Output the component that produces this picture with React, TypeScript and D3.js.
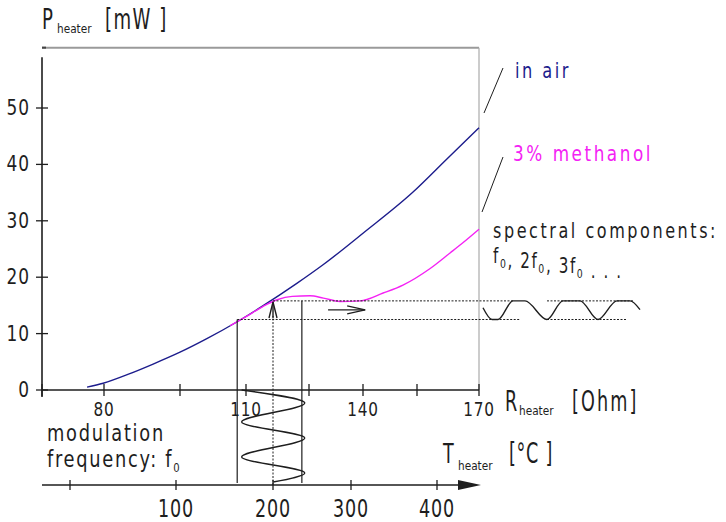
import React from "react";
import * as d3 from "d3";

// heater power vs. heater resistance
const pTicks = [0, 10, 20, 30, 40, 50];
const rTicks = [65, 80, 95, 110, 125, 140, 155, 170];
const rLabels = [80, 110, 140, 170];
const tTicks = [0, 100, 200, 300, 400];
const tLabels = [100, 200, 300, 400];

const rAir = [75.9, 79.8, 85.1, 89.7, 95, 101.1, 108.0, 114.0, 122.1, 128.9, 140, 153.9, 162.3, 170];
const pAir = [0.5, 1.2, 2.9, 4.6, 6.7, 9.1, 12.1, 14.9, 18.9, 22.2, 27.8, 35.1, 41.0, 46.5];

const rMeth = [106.4, 110, 114.0, 117.4, 121.0, 125.3, 129, 133.6, 139.2, 145.6, 151.1, 158.1, 163.0, 166.1, 170];
const pMeth = [11.4, 13.0, 14.8, 16.0, 16.6, 16.7, 16.3, 15.7, 15.8, 17.2, 18.6, 21.5, 24.3, 26.1, 28.5];

// operating point / modulation
const pHigh = 15.8;
const pLow = 12.5;
const rLow = 108;
const rHigh = 123.3;
const tMod = 200;
const arrowP = 14.2;
const arrowR = [130.3, 140.6];

// schematic waves
const modDy = [0, 13, 32, 48, 67, 83, 92];
const modSide = [0, 1, 0, 1, 0, 1, 0.5];
const specDx = [0, 9, 15, 30, 42, 64, 80, 97, 115, 134, 147, 157];
const specLvl = [0.63, 0, 0, 1, 1, 0, 1, 1, 0, 1, 1, 0.53];

const FONT = "'Liberation Sans Narrow', 'DejaVu Sans Condensed', 'Roboto Condensed', sans-serif";
const INK = "#1e1e1e";
const BLUE = "#1c1c8c";
const MAGENTA = "#f422f4";

const yScale = d3.scaleLinear().domain([0, 50]).range([390, 108]);
const xR = d3.scaleLinear().domain(rTicks).range([42, 104, 180, 246, 309, 363, 417, 479]);
const xT = d3.scaleLinear().domain(tTicks).range([70, 176, 273, 351, 437]);
const tAxisY = 485;
const specX0 = 483;

const Txt = ({ x, y, size, sx = 1, anchor = "start", fill = INK, ls = 0, children }: any) => (
  <text
    transform={`translate(${x},${y}) scale(${sx},1)`}
    fontSize={size}
    textAnchor={anchor}
    fill={fill}
    letterSpacing={ls}
    fontFamily={FONT}
  >
    {children}
  </text>
);

const Sub = ({ children }: any) => (
  <>
    <tspan fontSize={13} dy={5}>{children}</tspan>
    <tspan dy={-5}></tspan>
  </>
);

export default function App() {
  const line = d3
    .line<[number, number]>()
    .x((d) => xR(d[0]))
    .y((d) => yScale(d[1]))
    .curve(d3.curveMonotoneX);

  const airPath = line(rAir.map((r, i) => [r, pAir[i]]));
  const methPath = line(rMeth.map((r, i) => [r, pMeth[i]]));

  const x0 = xR(rTicks[0]);
  const y0 = yScale(0);
  const yTop = yScale(59);
  const yBorder = yScale(60.7);
  const xRight = xR(170);

  const modL = xR(109);
  const modR = xR(124);
  const modPath = d3
    .line<number>()
    .x((_, i) => modL + modSide[i] * (modR - modL))
    .y((d) => y0 + d)
    .curve(d3.curveMonotoneY)(modDy);

  const yHi = yScale(pHigh);
  const yLo = yScale(pLow);
  const specPath = d3
    .line<number>()
    .x((d) => specX0 + d)
    .y((_, i) => yLo + specLvl[i] * (yHi - yLo))
    .curve(d3.curveMonotoneX)(specDx);

  const xMod = xT(tMod);
  const yArrowTip = yScale(15.6);
  const yArrow = yScale(arrowP);
  const ax1 = xR(arrowR[0]);
  const ax2 = xR(arrowR[1]);

  return (
    <svg width={726} height={522} style={{ position: "absolute", left: 0, top: 0, background: "#fff" }}>
      {/* frame */}
      <line x1={x0} x2={xRight} y1={yBorder} y2={yBorder} stroke="#9a9a9a" strokeWidth={2} />
      <line x1={x0} x2={x0 + 4} y1={yBorder} y2={yBorder} stroke="#444" strokeWidth={2} />
      <line x1={xRight} x2={xRight} y1={yBorder} y2={y0} stroke="#aaa" strokeWidth={1.2} />

      {/* P axis */}
      <line x1={x0} x2={x0} y1={yTop} y2={y0 + 7} stroke={INK} strokeWidth={1.6} />
      {pTicks.map((p) => (
        <g key={p}>
          <line x1={x0 - 6} x2={x0 + 6} y1={yScale(p)} y2={yScale(p)} stroke={INK} strokeWidth={1.3} />
          <Txt x={30} y={yScale(p) + 7} size={21} sx={0.9} anchor="end" ls={1}>
            {p}
          </Txt>
        </g>
      ))}
      <Txt x={42} y={29} size={28} sx={0.72}>P</Txt>
      <Txt x={57} y={33} size={13} sx={0.9}>heater</Txt>
      <Txt x={105} y={29} size={28} sx={0.72} ls={2}>[mW ]</Txt>

      {/* R axis */}
      <line x1={x0} x2={xRight} y1={y0} y2={y0} stroke={INK} strokeWidth={1.6} />
      {rTicks.map((r) => (
        <line key={r} x1={xR(r)} x2={xR(r)} y1={y0 - 6} y2={y0 + 6} stroke={INK} strokeWidth={1.3} />
      ))}
      {rLabels.map((r) => (
        <Txt key={r} x={xR(r)} y={y0 + 26} size={20} sx={0.85} anchor="middle" ls={1}>
          {r}
        </Txt>
      ))}
      <Txt x={505} y={411} size={28} sx={0.7}>R</Txt>
      <Txt x={519} y={415} size={13} sx={0.9}>heater</Txt>
      <Txt x={572} y={411} size={28} sx={0.7} ls={3}>[Ohm]</Txt>

      {/* T axis */}
      <line x1={x0} x2={462} y1={tAxisY} y2={tAxisY} stroke={INK} strokeWidth={1.6} />
      <path d={`M458,${tAxisY - 5}L481,${tAxisY}L458,${tAxisY + 5}Z`} fill={INK} />
      {tTicks.map((t) => (
        <line key={t} x1={xT(t)} x2={xT(t)} y1={tAxisY - 5} y2={tAxisY + 5} stroke={INK} strokeWidth={1.3} />
      ))}
      {tLabels.map((t) => (
        <Txt key={t} x={xT(t)} y={tAxisY + 32} size={25} sx={0.78} anchor="middle" ls={1}>
          {t}
        </Txt>
      ))}
      <Txt x={443} y={463} size={27} sx={0.72}>T</Txt>
      <Txt x={458} y={470} size={13} sx={0.9}>heater</Txt>
      <Txt x={509} y={463} size={28} sx={0.7} ls={1}>[°C ]</Txt>

      {/* curves */}
      <path d={airPath || ""} fill="none" stroke={BLUE} strokeWidth={1.4} />
      <path d={methPath || ""} fill="none" stroke={MAGENTA} strokeWidth={1.4} />

      {/* operating range */}
      <line x1={xR(rLow)} x2={xR(rLow)} y1={yLo} y2={tAxisY - 2} stroke={INK} strokeWidth={1.2} />
      <line x1={xR(rHigh)} x2={xR(rHigh)} y1={yHi} y2={tAxisY - 2} stroke={INK} strokeWidth={1.2} />
      <line x1={xR(rLow)} x2={specX0 + 37} y1={yLo} y2={yLo} stroke={INK} strokeWidth={1} strokeDasharray="2,1.5" />
      <line x1={specX0 + 64} x2={specX0 + 144} y1={yLo} y2={yLo} stroke={INK} strokeWidth={1} strokeDasharray="2,1.5" />
      <line x1={xMod} x2={specX0 + 30} y1={yHi} y2={yHi} stroke={INK} strokeWidth={1} strokeDasharray="2,1.5" />
      <line x1={specX0 + 64} x2={specX0 + 150} y1={yHi} y2={yHi} stroke={INK} strokeWidth={1} strokeDasharray="2,1.5" />

      {/* up arrow from the temperature axis */}
      <line x1={xMod} x2={xMod} y1={tAxisY} y2={yArrowTip + 14} stroke={INK} strokeWidth={1} strokeDasharray="2,1.5" />
      <line x1={xMod} x2={xMod} y1={yArrowTip + 16} y2={yArrowTip} stroke={INK} strokeWidth={1.4} />
      <path d={`M${xMod - 4},${yArrowTip + 16}L${xMod},${yArrowTip}L${xMod + 4},${yArrowTip + 16}`} fill="none" stroke={INK} strokeWidth={1.4} />

      {/* right arrow */}
      <line x1={ax1} x2={ax2} y1={yArrow} y2={yArrow} stroke={INK} strokeWidth={1.3} />
      <path d={`M${ax2 - 18},${yArrow - 4}L${ax2},${yArrow}L${ax2 - 18},${yArrow + 4}`} fill="none" stroke={INK} strokeWidth={1.3} />

      {/* waves */}
      <path d={modPath || ""} fill="none" stroke={INK} strokeWidth={1.3} />
      <path d={specPath || ""} fill="none" stroke={INK} strokeWidth={1.4} />

      {/* legend labels */}
      <line x1={503} y1={68} x2={484} y2={113} stroke={INK} strokeWidth={1} />
      <line x1={503} y1={157} x2={482} y2={212} stroke={INK} strokeWidth={1} />
      <Txt x={515} y={78} size={22} sx={0.82} fill={BLUE} ls={3}>in air</Txt>
      <Txt x={513} y={161} size={22} sx={0.85} fill={MAGENTA} ls={3}>3%  methanol</Txt>

      <Txt x={493} y={238} size={21} sx={0.85} ls={3}>spectral components:</Txt>
      <Txt x={493} y={263} size={21} sx={0.8} ls={2}>
        f<Sub>0</Sub>, 2f<Sub>0</Sub>, 3f<Sub>0</Sub> . . .
      </Txt>

      <Txt x={47} y={441} size={23} sx={0.86} ls={2}>modulation</Txt>
      <Txt x={47} y={467} size={23} sx={0.86} ls={2}>
        frequency: f<Sub>0</Sub>
      </Txt>
    </svg>
  );
}
